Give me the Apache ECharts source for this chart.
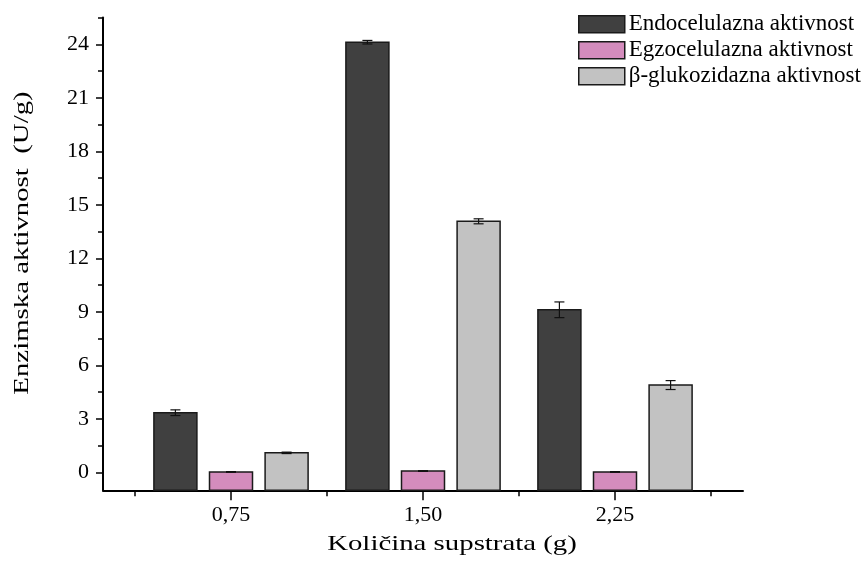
<!DOCTYPE html>
<html>
<head>
<meta charset="utf-8">
<script src="https://cdn.jsdelivr.net/npm/echarts@6/dist/echarts.min.js"></script>
<style>
  html, body { margin: 0; padding: 0; background: #fff; }
  #chart { width: 866px; height: 565px; }
</style>
</head>
<body>
<div id="chart"></div>
<script>
// Substrate amounts (g) and enzyme activities (U/g) with standard deviations
const substrate = [0.75, 1.50, 2.25];
const tickLabels = ['0,75', '1,50', '2,25'];
const seriesNames = ['Endocelulazna aktivnost', 'Egzocelulazna aktivnost', 'β-glukozidazna aktivnost'];
const endoValues = [3.35, 24.12, 9.12];
const endoErrors = [0.16, 0.10, 0.44];
const egzoValues = [0.03, 0.08, 0.03];
const egzoErrors = [0.02, 0.02, 0.02];
const betaValues = [1.10, 14.08, 4.90];
const betaErrors = [0.04, 0.14, 0.25];
const yTicks = [0, 3, 6, 9, 12, 15, 18, 21, 24];
const yMinorTicks = [1.5, 4.5, 7.5, 10.5, 13.5, 16.5, 19.5, 22.5, 25.5];
const xMinorTicks = [0.375, 1.125, 1.875, 2.625];

const Y_MIN = -1, Y_MAX = 25.5;
const X_MIN = 0.25, X_MAX = 2.75;
const FONT = '"Liberation Serif", "Times New Roman", serif';

const colors = ['#404040', '#d48cbd', '#c2c2c2'];
const BAR_W = 43;
const offsets = [-55.6, 0, 55.6];

function rows(values, errors) {
  return substrate.map((x, i) => [x, values[i], errors[i]]);
}

// Bars rise from the bottom of the value axis; each carries a capped error bar
function makeSeries(idx, values, errors) {
  return {
    type: 'custom',
    name: seriesNames[idx],
    xAxisIndex: 0,
    yAxisIndex: 0,
    encode: { x: 0, y: 1 },
    itemStyle: { color: colors[idx], borderColor: '#1a1a1a', borderWidth: 1.5 },
    data: rows(values, errors),
    renderItem: function (params, api) {
      const x = api.value(0), v = api.value(1), e = api.value(2);
      const base = api.coord([x, Y_MIN]);
      const top = api.coord([x, v]);
      const hi = api.coord([x, v + e]);
      const lo = api.coord([x, v - e]);
      const cx = base[0] + offsets[idx];
      const lineStyle = { stroke: '#111', lineWidth: 1.2, fill: null };
      return {
        type: 'group',
        children: [
          {
            type: 'rect',
            shape: { x: cx - BAR_W / 2, y: top[1], width: BAR_W, height: base[1] - top[1] },
            style: { fill: colors[idx], stroke: '#1a1a1a', lineWidth: 1.5 }
          },
          { type: 'line', shape: { x1: cx, y1: hi[1], x2: cx, y2: lo[1] }, style: lineStyle },
          { type: 'line', shape: { x1: cx - 5, y1: hi[1], x2: cx + 5, y2: hi[1] }, style: lineStyle },
          { type: 'line', shape: { x1: cx - 5, y1: lo[1], x2: cx + 5, y2: lo[1] }, style: lineStyle }
        ]
      };
    }
  };
}

const chart = echarts.init(document.getElementById('chart'), null, { renderer: 'canvas' });

const axisText = { fontFamily: FONT, fontSize: 22, color: '#000' };

chart.setOption({
  animation: false,
  backgroundColor: '#fff',
  grid: { left: 103, right: 123, top: 17.6, bottom: 74.7, containLabel: false },
  legend: {
    left: 578,
    top: 12.7,
    padding: 0,
    orient: 'vertical',
    icon: 'rect',
    itemWidth: 46,
    itemHeight: 17,
    itemGap: 3,
    selectedMode: false,
    textStyle: { fontFamily: FONT, fontSize: 23, color: '#000', padding: [0, 0, 0, -1] },
    data: seriesNames.map((n, i) => ({
      name: n,
      itemStyle: { color: colors[i], borderColor: '#1a1a1a', borderWidth: 1.5 }
    }))
  },
  xAxis: [
    {
      type: 'value',
      min: X_MIN,
      max: X_MAX,
      splitLine: { show: false },
      axisLine: { show: true, onZero: false, lineStyle: { color: '#000', width: 2 } },
      axisTick: { show: true, customValues: substrate, length: 10, lineStyle: { color: '#000', width: 1.5 } },
      axisLabel: {
        show: true,
        customValues: substrate,
        margin: 14,
        ...axisText,
        formatter: function (v) {
          const i = substrate.findIndex(s => Math.abs(s - v) < 1e-6);
          return i >= 0 ? tickLabels[i] : '';
        }
      }
    },
    {
      type: 'value',
      min: X_MIN,
      max: X_MAX,
      position: 'bottom',
      splitLine: { show: false },
      axisLine: { show: false, onZero: false },
      axisTick: { show: true, customValues: xMinorTicks, length: 6, lineStyle: { color: '#000', width: 1.5 } },
      axisLabel: { show: false }
    }
  ],
  yAxis: [
    {
      type: 'value',
      min: Y_MIN,
      max: Y_MAX,
      splitLine: { show: false },
      axisLine: { show: true, onZero: false, lineStyle: { color: '#000', width: 2 } },
      axisTick: { show: true, customValues: yTicks, length: 7, lineStyle: { color: '#000', width: 1.5 } },
      axisLabel: { show: true, customValues: yTicks, margin: 14, ...axisText }
    },
    {
      type: 'value',
      min: Y_MIN,
      max: Y_MAX,
      position: 'left',
      splitLine: { show: false },
      axisLine: { show: false, onZero: false },
      axisTick: { show: true, customValues: yMinorTicks, length: 5, lineStyle: { color: '#000', width: 1.5 } },
      axisLabel: { show: false }
    }
  ],
  graphic: [
    {
      type: 'text',
      x: 452,
      y: 544,
      scaleX: 1.31,
      style: {
        text: 'Količina supstrata (g)',
        fontFamily: FONT,
        fontSize: 22,
        fill: '#000',
        align: 'center',
        verticalAlign: 'middle'
      }
    },
    {
      type: 'text',
      x: 22,
      y: 243,
      rotation: Math.PI / 2,
      scaleX: 1.31,
      style: {
        text: 'Enzimska aktivnost  (U/g)',
        fontFamily: FONT,
        fontSize: 22,
        fill: '#000',
        align: 'center',
        verticalAlign: 'middle'
      }
    }
  ],
  series: [
    makeSeries(0, endoValues, endoErrors),
    makeSeries(1, egzoValues, egzoErrors),
    makeSeries(2, betaValues, betaErrors)
  ]
});
</script>
</body>
</html>
